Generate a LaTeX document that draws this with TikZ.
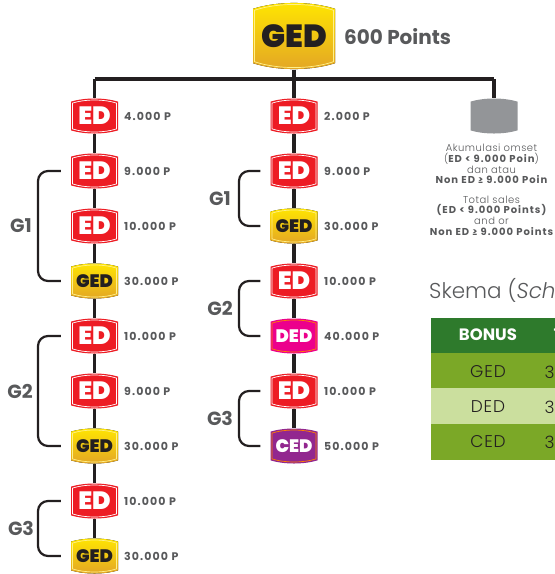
\documentclass[tikz,border=0pt]{standalone}
\usepackage{fontspec}
\setmainfont{Poppins}
\newfontfamily\heavy{Poppins Black}
\newfontfamily\lite[LetterSpace=5]{Poppins Light}
\newfontfamily\litet{Poppins Light}
\newfontfamily\spbold[LetterSpace=10]{Poppins Bold}
\usetikzlibrary{backgrounds}
\definecolor{txt}{HTML}{58595B}
\definecolor{redB}{HTML}{ED1C24}
\definecolor{pinkB}{HTML}{EC008C}
\definecolor{purpB}{HTML}{92278F}
\definecolor{greyB}{HTML}{939598}
\definecolor{gedA}{HTML}{FFE600}
\definecolor{gedB}{HTML}{E3A526}
\definecolor{gedLine}{HTML}{FFF08A}
\definecolor{darkL}{HTML}{231F20}
\definecolor{hdr}{HTML}{2E7A2C}
\definecolor{rowA}{HTML}{7BA827}
\definecolor{rowB}{HTML}{CBDF9E}
\tikzset{
  x=1pt,y=-1pt,
  edfill/.style={fill=redB},
  dedfill/.style={fill=pinkB},
  cedfill/.style={fill=purpB},
  gedfill/.style={top color=gedA,bottom color=gedB},
  greyfill/.style={fill=greyB},
  badgetext/.style={font=\heavy\fontsize{18}{18}\selectfont,text=white,inner sep=0pt,minimum width=47pt,minimum height=36pt},
  edtext/.style={badgetext,font=\heavy\fontsize{25}{25}\selectfont},
  gedtext/.style={badgetext,text=darkL},
  small/.style={font=\spbold\fontsize{11}{12}\selectfont,text=txt,anchor=west,inner sep=0pt},
  glabel/.style={font=\bfseries\fontsize{19}{20}\selectfont,text=txt,inner sep=0pt},
  trunk/.style={draw=darkL,line width=3.6pt},
  bracket/.style={draw=darkL,line width=2.2pt,rounded corners=10pt},
  note/.style={font=\lite\fontsize{10}{10.7}\selectfont,text=txt,align=center,inner sep=0pt},
  cell/.style={font=\lite\fontsize{17}{18}\selectfont,text=darkL,inner sep=0pt},
}
% #1 name, #2 x, #3 y, #4 half-width, #5 half-height, #6 fill style, #7 inner line colour
\newcommand{\badgeshape}[7]{%
  \fill[#6,draw=none] (#2-#4,#3-#5*0.8) .. controls (#2-#4*0.4,#3-#5*1.03) and (#2+#4*0.4,#3-#5*1.03) .. (#2+#4,#3-#5*0.8)
    -- (#2+#4,#3+#5*0.8) .. controls (#2+#4*0.4,#3+#5*1.03) and (#2-#4*0.4,#3+#5*1.03) .. (#2-#4,#3+#5*0.8) -- cycle;
  \draw[#7,line width=0.7pt] (#2-#4+1.5,#3-#5*0.8+1.5) .. controls (#2-#4*0.4,#3-#5*1.03+1.5) and (#2+#4*0.4,#3-#5*1.03+1.5) .. (#2+#4-1.5,#3-#5*0.8+1.5)
    -- (#2+#4-1.5,#3+#5*0.8-1.5) .. controls (#2+#4*0.4,#3+#5*1.03-1.5) and (#2-#4*0.4,#3+#5*1.03-1.5) .. (#2-#4+1.5,#3+#5*0.8-1.5) -- cycle;
}
\newcommand{\edb}[3]{\badgeshape{#1}{#2}{#3}{23.5}{18}{edfill}{white}\node[edtext] (#1) at (#2,#3) {ED};}
\newcommand{\gedb}[3]{\badgeshape{#1}{#2}{#3}{23.5}{18}{gedfill}{gedLine}\node[gedtext] (#1) at (#2,#3) {GED};}
\newcommand{\dedb}[3]{\badgeshape{#1}{#2}{#3}{23.5}{18}{dedfill}{orange}\node[badgetext] (#1) at (#2,#3) {DED};}
\newcommand{\cedb}[3]{\badgeshape{#1}{#2}{#3}{23.5}{18}{cedfill}{orange}\node[badgetext] (#1) at (#2,#3) {CED};}
\newcommand{\lbl}[3]{\node[small] (#1) at (#2) {#3};}
\newcommand{\brk}[3]{\draw[bracket] ([xshift=-10pt]#1.west) -- (#3,0 |- #1.west) -- (#3,0 |- #2.west) -- ([xshift=-10pt]#2.west);}
\begin{document}
\begin{tikzpicture}
\useasboundingbox (0,0) rectangle (555,574);
\clip (0,0) rectangle (555,574);
% top
\badgeshape{top}{294}{36}{41}{34}{gedfill}{gedLine}
\node[gedtext,font=\heavy\fontsize{32}{32}\selectfont,minimum width=82pt,minimum height=67pt] (top) at (294,36) {GED};
\node[font=\bfseries\fontsize{20}{22}\selectfont,text=txt,anchor=west,inner sep=0pt] (topl) at (344,37) {600 Points};
\coordinate (busL) at (94.5,79);
\coordinate (busM) at (294,79);
\coordinate (busR) at (494,79);
% left column
\edb{la}{94.5}{116}\edb{lb}{94.5}{171}\edb{lc}{94.5}{226}\gedb{ld}{94.5}{281}\edb{le}{94.5}{336}\edb{lf}{94.5}{391}\gedb{lg}{94.5}{446}\edb{lh}{94.5}{501}\gedb{li}{94.5}{556}
\lbl{tla}{124,116}{4.000 P}\lbl{tlb}{124,171}{9.000 P}\lbl{tlc}{124,226}{10.000 P}\lbl{tld}{124,281}{30.000 P}\lbl{tle}{124,336}{10.000 P}\lbl{tlf}{124,391}{9.000 P}\lbl{tlg}{124,446}{30.000 P}\lbl{tlh}{124,501}{10.000 P}\lbl{tli}{124,556}{30.000 P}
% middle column
\edb{ma}{294}{116}\edb{mb}{294}{171}\gedb{mc}{294}{226}\edb{md}{294}{281}\dedb{me}{294}{336}\edb{mf}{294}{391}\cedb{mg}{294}{446}
\lbl{tma}{324,116}{2.000 P}\lbl{tmb}{324,171}{9.000 P}\lbl{tmc}{324,226}{30.000 P}\lbl{tmd}{324,281}{10.000 P}\lbl{tme}{324,336}{40.000 P}\lbl{tmf}{324,391}{10.000 P}\lbl{tmg}{324,446}{50.000 P}
% grey
\badgeshape{gr}{494}{116}{23.5}{18}{greyfill}{greyB}
\node[inner sep=0pt,minimum width=47pt,minimum height=36pt] (gr) at (494,116) {};
\node[note] (n1) at (491.5,164) {Akumulasi omset\\({\spbold ED < 9.000 Poin})\\dan atau\\{\spbold Non ED ≥ 9.000 Poin}};
\node[note] (n2) at (491.5,215.5) {Total sales\\{\spbold (ED < 9.000 Points)}\\and or\\{\spbold Non ED ≥ 9.000 Points}};
% group labels
\node[glabel] (g1l) at (21,226) {G1};\node[glabel] (g2l) at (20,391) {G2};\node[glabel] (g3l) at (21,528) {G3};
\node[glabel] (g1m) at (220,199) {G1};\node[glabel] (g2m) at (220,308) {G2};\node[glabel] (g3m) at (220,418) {G3};
% table
\fill[hdr] (431,318) rectangle (555,353);
\fill[rowA] (431,353) rectangle (555,388);
\fill[rowB] (431,388) rectangle (555,424);
\fill[rowA] (431,424) rectangle (555,460);
\node[font=\litet\fontsize{21.5}{24}\selectfont,text=txt,anchor=west,inner sep=0pt] (sk) at (429,290) {Skema (\textit{Sch}};
\node[font=\bfseries\fontsize{16.5}{18}\selectfont,text=white,inner sep=0pt] (hb) at (488,335) {BONUS};
\node[font=\bfseries\fontsize{16.5}{18}\selectfont,text=white,anchor=west,inner sep=0pt] (ht) at (553.5,335) {T};
\node[cell] (c1) at (488,372) {GED};\node[cell] (c2) at (488,407) {DED};\node[cell] (c3) at (488,442) {CED};
\node[cell,anchor=west] (d1) at (544.5,372) {3};\node[cell,anchor=west] (d2) at (544.5,407) {3};\node[cell,anchor=west] (d3) at (544.5,442) {3};
% connectors
\begin{scope}[on background layer]
\draw[trunk] (busL) -- (busR);
\draw[trunk] (top) -- (busM);
\draw[trunk] (busL) -- (la) -- (lb) -- (lc) -- (ld) -- (le) -- (lf) -- (lg) -- (lh) -- (li);
\draw[trunk] (busM) -- (ma) -- (mb) -- (mc) -- (md) -- (me) -- (mf) -- (mg);
\draw[trunk] (busR) -- (gr);
\end{scope}
\brk{lb}{ld}{38}\brk{le}{lg}{38}\brk{lh}{li}{38}
\brk{mb}{mc}{239}\brk{md}{me}{239}\brk{mf}{mg}{239}
\end{tikzpicture}
\end{document}
